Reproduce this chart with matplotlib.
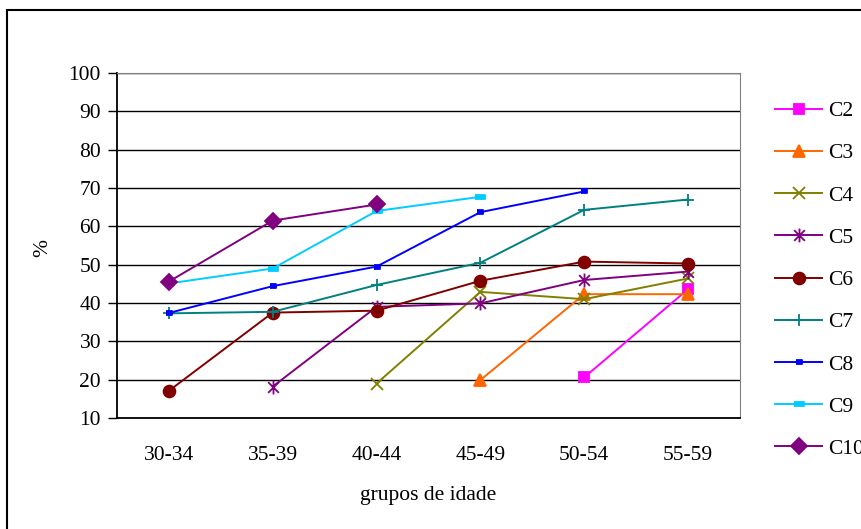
import numpy as np
import matplotlib
matplotlib.use("Agg")
import matplotlib.pyplot as plt
from matplotlib.path import Path
from matplotlib.patches import Rectangle

plt.rcParams["font.family"] = ["Liberation Serif", "DejaVu Serif"]
plt.rcParams["font.size"] = 15.5

nan = np.nan
groups = ["30-34", "35-39", "40-44", "45-49", "50-54", "55-59"]
names = ["C2", "C3", "C4", "C5", "C6", "C7", "C8", "C9", "C10"]

c2 = [nan, nan, nan, nan, 20.6, 43.6]
c3 = [nan, nan, nan, 19.9, 42.3, 42.3]
c4 = [nan, nan, 19.0, 42.9, 41.0, 46.4]
c5 = [nan, 18.2, 39.0, 39.9, 46.0, 48.2]
c6 = [17.1, 37.5, 38.0, 45.8, 50.8, 50.3]
c7 = [37.3, 37.7, 44.7, 50.5, 64.3, 67.0]
c8 = [37.4, 44.4, 49.5, 63.7, 69.1, nan]
c9 = [45.1, 49.0, 64.0, 67.7, nan, nan]
c10 = [45.6, 61.5, 65.7, nan, nan, nan]
series = [c2, c3, c4, c5, c6, c7, c8, c9, c10]

colors = ["#FF00FF", "#FF6600", "#808000", "#800080", "#800000",
          "#008080", "#0000FF", "#00CCFF", "#800080"]

# Excel-style star: an X with a vertical bar through it
star = Path([(-1, -1), (1, 1), (-1, 1), (1, -1), (0, -1.3), (0, 1.3)],
            [Path.MOVETO, Path.LINETO, Path.MOVETO, Path.LINETO,
             Path.MOVETO, Path.LINETO])
dash_small = [(-1, -0.45), (1, -0.45), (1, 0.45), (-1, 0.45)]
dash_big = [(-1, -0.35), (1, -0.35), (1, 0.35), (-1, 0.35)]

markers = ["s", "^", "x", star, "o", "+", dash_small, dash_big, "D"]
sizes = [7.5, 8.5, 8, 10, 8.5, 9, 5, 7, 8]

fig = plt.figure(figsize=(8.61, 5.29), dpi=100)
ax = fig.add_axes([117 / 861, 1 - 418 / 529, 623 / 861, 345 / 529])

x = np.arange(len(groups))
for vals, name, col, mk, ms in zip(series, names, colors, markers, sizes):
    ax.plot(x, vals, color=col, lw=1.4, marker=mk, markersize=ms,
            markerfacecolor=col, markeredgecolor=col, markeredgewidth=1.3,
            label=name)

ax.set_xlim(-0.5, len(groups) - 0.5)
ax.set_ylim(10, 100)
ax.set_yticks(np.arange(10, 101, 10))
ax.set_xticks(x)
ax.set_xticklabels(groups)
ax.yaxis.grid(True, color="black", lw=1)
ax.set_axisbelow(True)
ax.tick_params(axis="y", length=6.5, width=1, pad=5, direction="out")
ax.tick_params(axis="x", length=0, pad=20)

for side in ["left", "bottom"]:
    ax.spines[side].set_linewidth(1.3)
    ax.spines[side].set_color("black")
ax.spines["right"].set_color("#808080")
ax.spines["top"].set_color("#808080")

ax.set_xlabel("grupos de idade", labelpad=15)
fig.text(43 / 861, 1 - 248 / 529, "%", rotation=90, ha="center", va="center")

ax.legend(loc="upper left", bbox_to_anchor=(775 / 861, 1 - 101 / 529),
          bbox_transform=fig.transFigure, frameon=False, borderaxespad=0,
          borderpad=0, handlelength=2.2, handletextpad=0.25,
          labelspacing=1.03)

# outer chart frame
fig.patches.append(Rectangle((7 / 861, -0.1), 1.2, 1 - 10 / 529 + 0.1,
                             transform=fig.transFigure, fill=False,
                             edgecolor="black", lw=1.5))

fig.savefig("out.png", dpi=100)
